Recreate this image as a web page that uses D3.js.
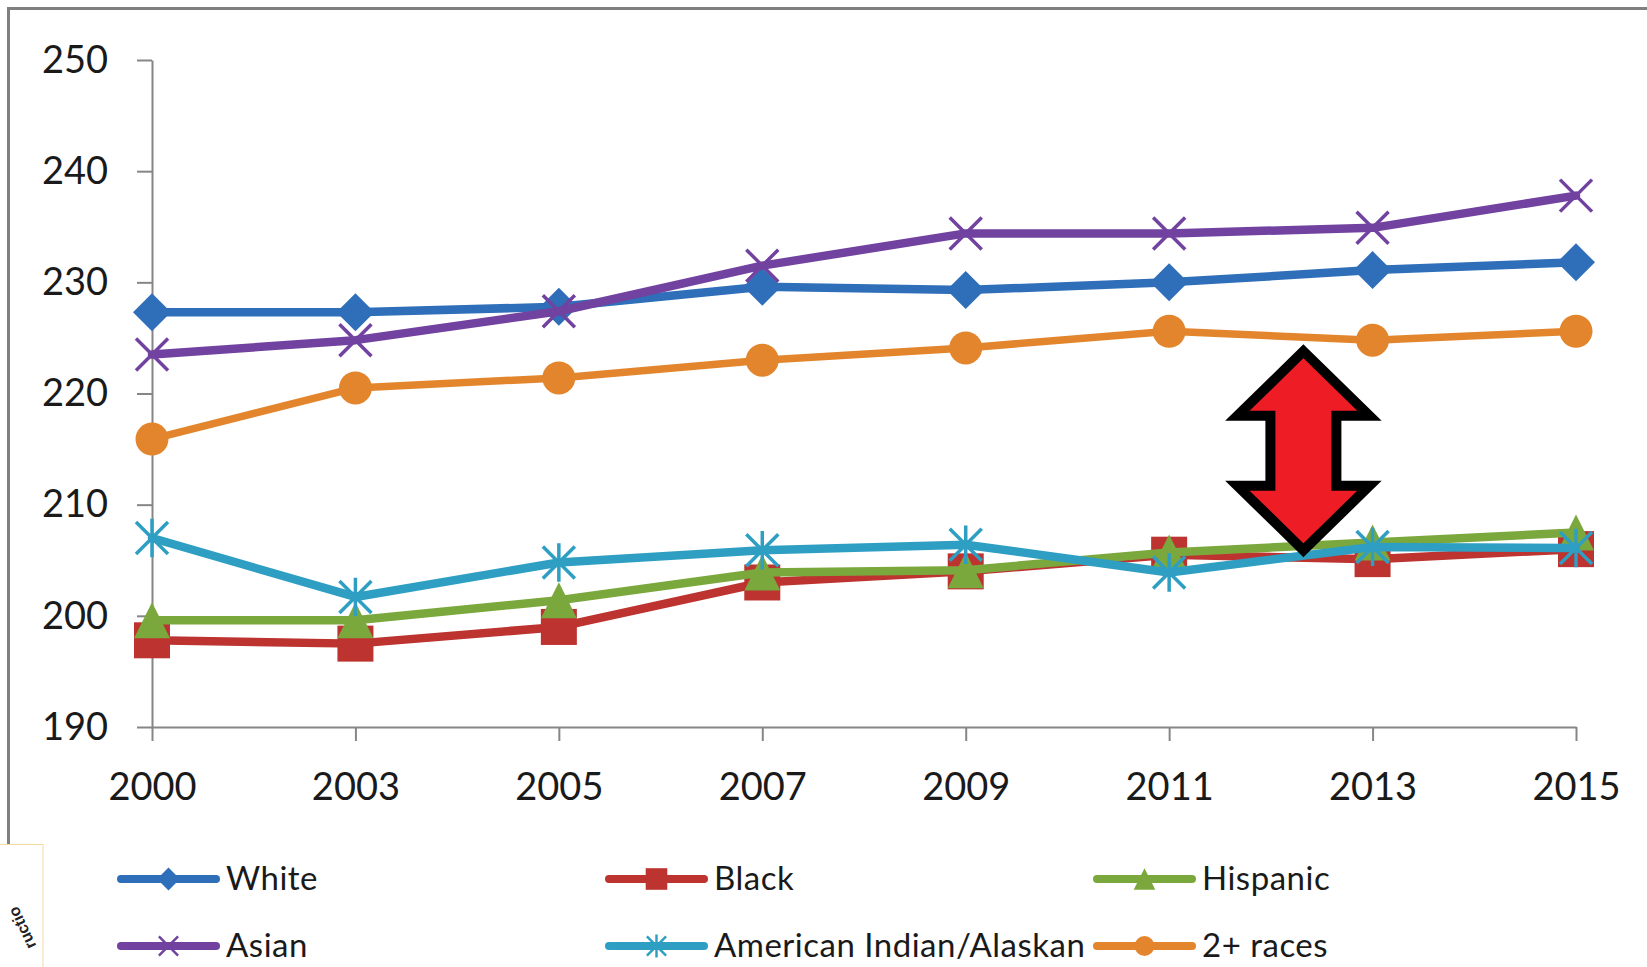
<!DOCTYPE html>
<html>
<head>
<meta charset="utf-8">
<script src="https://cdn.jsdelivr.net/npm/d3@7/dist/d3.min.js"></script>
<style>
  html, body { margin: 0; padding: 0; background: #fff; }
  svg { display: block; }
</style>
</head>
<body>
<svg id="chart" width="1647" height="967"></svg>
<script>
// ---- data ----
const years = ["2000", "2003", "2005", "2007", "2009", "2011", "2013", "2015"];
const yTicks = [190, 200, 210, 220, 230, 240, 250];
const white    = [227.3, 227.3, 227.8, 229.6, 229.3, 230.0, 231.1, 231.8];
const black    = [197.8, 197.5, 199.0, 203.0, 204.0, 205.5, 205.1, 206.0];
const hispanic = [199.6, 199.6, 201.4, 203.9, 204.1, 205.7, 206.6, 207.5];
const asian    = [223.5, 224.8, 227.4, 231.5, 234.4, 234.4, 234.9, 237.8];
const amInd    = [207.0, 201.7, 204.8, 205.9, 206.4, 203.9, 206.2, 206.1];
const twoPlus  = [215.9, 220.5, 221.4, 223.0, 224.1, 225.6, 224.8, 225.6];
const seriesNames = ["White", "Black", "Hispanic", "Asian", "American Indian/Alaskan", "2+ races"];

const series = [
  { name: seriesNames[0], values: white,    color: "#2F6EB8", marker: "diamond" },
  { name: seriesNames[1], values: black,    color: "#BC3330", marker: "square" },
  { name: seriesNames[2], values: hispanic, color: "#7BA83D", marker: "triangle" },
  { name: seriesNames[3], values: asian,    color: "#7142A0", marker: "x" },
  { name: seriesNames[4], values: amInd,    color: "#2E9FC3", marker: "star" },
  { name: seriesNames[5], values: twoPlus,  color: "#E3852C", marker: "circle" }
];

const svg = d3.select("#chart");
const FONT = "Lato, 'Open Sans', sans-serif";

// ---- frame ----
svg.append("line").attr("x1", 8).attr("x2", 1647).attr("y1", 8.5).attr("y2", 8.5)
  .attr("stroke", "#7f7f7f").attr("stroke-width", 3);
svg.append("line").attr("x1", 8.5).attr("x2", 8.5).attr("y1", 7).attr("y2", 845)
  .attr("stroke", "#7f7f7f").attr("stroke-width", 3);

// small box in bottom-left corner with a fragment of rotated text
svg.append("rect").attr("x", -1).attr("y", 844.5).attr("width", 44).attr("height", 130)
  .attr("fill", "#fff").attr("stroke", "#f3dc9c").attr("stroke-width", 1);
svg.append("text").attr("x", 0).attr("y", 0)
  .attr("transform", "translate(22,928) rotate(-115)")
  .attr("font-family", "Arial, 'Liberation Sans', sans-serif")
  .attr("font-size", 16).attr("font-weight", "bold").attr("fill", "#222")
  .attr("text-anchor", "middle").attr("dy", "0.35em")
  .text("ructio");

// ---- scales ----
const x = d3.scalePoint().domain(years).range([152, 1576]);
const y = d3.scaleLinear().domain([190, 250]).range([727, 60]);

// ---- axes ----
const yAxis = d3.axisLeft(y).tickValues(yTicks).tickSize(15).tickPadding(29).tickSizeOuter(0);
const gy = svg.append("g").attr("transform", "translate(152,0)").call(yAxis);
gy.select(".domain").attr("stroke", "#868686").attr("stroke-width", 2);
gy.selectAll(".tick line").attr("stroke", "#868686").attr("stroke-width", 2);
gy.selectAll(".tick text").attr("font-family", FONT).attr("font-size", 38).attr("fill", "#1a1a1a");

const xAxis = d3.axisBottom(x).tickSize(14).tickPadding(0).tickSizeOuter(0);
const gx = svg.append("g").attr("transform", "translate(0,727)").call(xAxis);
gx.select(".domain").attr("stroke", "#868686").attr("stroke-width", 2);
gx.selectAll(".tick line").attr("stroke", "#868686").attr("stroke-width", 2);
gx.selectAll(".tick text").attr("font-family", FONT).attr("font-size", 38).attr("fill", "#1a1a1a")
  .attr("dy", "0").attr("y", 73);

// ---- markers ----
function drawMarker(g, type, color, cx, cy, s) {
  if (type === "diamond") {
    const r = 19 * s;
    g.append("path").attr("d", `M${cx},${cy - r}L${cx + r},${cy}L${cx},${cy + r}L${cx - r},${cy}Z`).attr("fill", color);
  } else if (type === "square") {
    const h = 18 * s;
    g.append("rect").attr("x", cx - h).attr("y", cy - h).attr("width", 2 * h).attr("height", 2 * h).attr("fill", color);
  } else if (type === "triangle") {
    const h = 18 * s;
    g.append("path").attr("d", `M${cx},${cy - h}L${cx + h},${cy + h}L${cx - h},${cy + h}Z`).attr("fill", color);
  } else if (type === "circle") {
    g.append("circle").attr("cx", cx).attr("cy", cy).attr("r", 16.5 * s).attr("fill", color);
  } else if (type === "x") {
    const r = 16 * s;
    g.append("path").attr("d", `M${cx - r},${cy - r}L${cx + r},${cy + r}M${cx - r},${cy + r}L${cx + r},${cy - r}`)
      .attr("stroke", color).attr("stroke-width", 3.5 * Math.max(s, 0.7)).attr("fill", "none");
  } else if (type === "star") {
    const r = 16 * s;
    g.append("path").attr("d", `M${cx - r},${cy - r}L${cx + r},${cy + r}M${cx - r},${cy + r}L${cx + r},${cy - r}M${cx},${cy - r * 1.2}L${cx},${cy + r * 1.2}`)
      .attr("stroke", color).attr("stroke-width", 3.5 * Math.max(s, 0.7)).attr("fill", "none");
  }
}

// ---- lines ----
const line = d3.line().x((d, i) => x(years[i])).y(d => y(d));
series.forEach(s => {
  const g = svg.append("g");
  g.append("path").datum(s.values).attr("d", line)
    .attr("fill", "none").attr("stroke", s.color).attr("stroke-width", s.marker === "circle" ? 7.5 : 8.5)
    .attr("stroke-linejoin", "round").attr("stroke-linecap", "round");
  s.values.forEach((v, i) => drawMarker(g, s.marker, s.color, x(years[i]), y(v), 1));
});

// ---- arrow annotation (double-headed, between 2011 and 2013) ----
const arrowTop = 223.8, arrowBottom = 205.9, headBase = 218.0, tailBase = 211.7;
const ax = x("2011") + (x("2013") - x("2011")) * 0.66;
const headHalf = 66, shaftHalf = 33;
const pts = [
  [ax, y(arrowTop)], [ax + headHalf, y(headBase)], [ax + shaftHalf, y(headBase)],
  [ax + shaftHalf, y(tailBase)], [ax + headHalf, y(tailBase)], [ax, y(arrowBottom)],
  [ax - headHalf, y(tailBase)], [ax - shaftHalf, y(tailBase)], [ax - shaftHalf, y(headBase)],
  [ax - headHalf, y(headBase)]
];
svg.append("polygon").attr("points", pts.map(p => p.join(",")).join(" "))
  .attr("fill", "#EE1D25").attr("stroke", "#000").attr("stroke-width", 10).attr("stroke-linejoin", "miter");

// ---- legend ----
const legendCols = [121, 609, 1097];
const legendRows = [879, 946];
const legendLen = 95;
series.forEach((s, i) => {
  const col = i % 3, row = Math.floor(i / 3);
  const lx = legendCols[col], ly = legendRows[row];
  const g = svg.append("g");
  g.append("line").attr("x1", lx).attr("x2", lx + legendLen).attr("y1", ly).attr("y2", ly)
    .attr("stroke", s.color).attr("stroke-width", 8).attr("stroke-linecap", "round");
  drawMarker(g, s.marker, s.color, lx + legendLen / 2, ly, 0.6);
  g.append("text").attr("x", lx + legendLen + 10).attr("y", ly).attr("dy", "0.34em")
    .attr("font-family", FONT).attr("font-size", 33).attr("letter-spacing", 0.5)
    .attr("fill", "#1a1a1a").text(s.name);
});
</script>
</body>
</html>
